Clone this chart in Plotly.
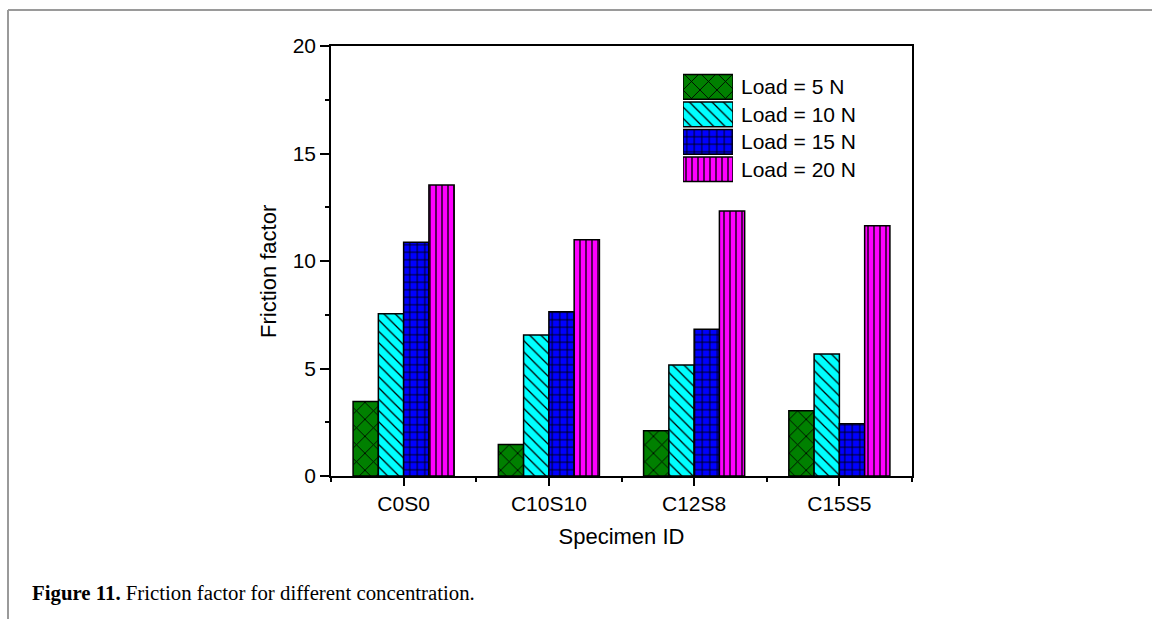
import plotly.graph_objects as go

categories = ["C0S0", "C10S10", "C12S8", "C15S5"]
series_names = ["Load = 5 N", "Load = 10 N", "Load = 15 N", "Load = 20 N"]
load_5 = [3.46, 1.47, 2.11, 3.04]
load_10 = [7.55, 6.56, 5.16, 5.67]
load_15 = [10.87, 7.64, 6.82, 2.43]
load_20 = [13.53, 10.99, 12.33, 11.64]
series_values = [load_5, load_10, load_15, load_20]
colors = ["#008000", "#00ffff", "#0000ff", "#ff00ff"]
patterns = ["x", "\\", "+", "|"]
pattern_sizes = [12, 8, 7.5, 6]
pattern_solidity = [0.14, 0.16, 0.22, 0.22]

W, H = 1152, 619
L, R, T, B = 331, 240, 46, 143
PW, PH = W - L - R, H - T - B

def px_x(px):
    return (px - L) / PW

def px_y(py):
    return (H - B - py) / PH

fig = go.Figure()
x_pos = list(range(len(categories)))
for name, vals, col, pat, ps, sol in zip(series_names, series_values, colors, patterns, pattern_sizes, pattern_solidity):
    fig.add_trace(go.Bar(
        x=x_pos, y=vals, name=name, showlegend=False,
        marker=dict(color=col, line=dict(color="black", width=1.5),
                    pattern=dict(shape=pat, fgcolor="black", bgcolor=col, size=ps, solidity=sol, fillmode="replace")),
        xaxis="x", yaxis="y",
    ))

# custom legend drawn as horizontal bars on an inset axis
for i, (name, col, pat, ps, sol) in enumerate(zip(series_names, colors, patterns, pattern_sizes, pattern_solidity)):
    fig.add_trace(go.Bar(
        x=[1], y=[i], orientation="h", width=0.9, showlegend=False,
        marker=dict(color=col, line=dict(color="black", width=1.5),
                    pattern=dict(shape=pat, fgcolor="black", bgcolor=col, size=ps, solidity=sol, fillmode="replace")),
        xaxis="x2", yaxis="y2", hoverinfo="skip",
    ))
    fig.add_annotation(x=px_x(739), y=i, xref="paper", yref="y2", text=name, showarrow=False,
                       xanchor="left", yanchor="middle",
                       font=dict(family="Liberation Sans, Arial", size=21, color="black"))

axis_font = dict(family="Liberation Sans, Arial", size=21, color="black")
fig.update_layout(
    width=W, height=H,
    margin=dict(l=L, r=R, t=T, b=B, pad=0),
    paper_bgcolor="white", plot_bgcolor="white",
    barmode="group", bargap=0.304, bargroupgap=0,
    font=axis_font,
    xaxis=dict(range=[-0.5, 3.5], tickmode="array", tickvals=x_pos, ticktext=categories,
               showline=True, linecolor="black", linewidth=1.5, mirror=True,
               ticks="outside", ticklen=8, tickwidth=1.5, tickcolor="black",
               showgrid=False, zeroline=False, tickfont=axis_font,
               minor=dict(tick0=0.5, dtick=1, ticks="outside", ticklen=4, tickwidth=1.5, tickcolor="black"),
               title=dict(text="Specimen ID", font=dict(family="Liberation Sans, Arial", size=22, color="black"), standoff=15)),
    yaxis=dict(range=[0, 20], dtick=5, tick0=0,
               showline=True, linecolor="black", linewidth=1.5, mirror=True,
               ticks="outside", ticklen=9, tickwidth=1.5, tickcolor="black",
               showgrid=False, zeroline=False, tickfont=axis_font,
               minor=dict(dtick=2.5, ticks="outside", ticklen=4, tickwidth=1.5, tickcolor="black")),
    xaxis2=dict(domain=[px_x(683), px_x(733)], range=[0, 1], anchor="y2", visible=False, fixedrange=True),
    yaxis2=dict(domain=[px_y(183), px_y(73)], range=[3.5, -0.5], anchor="x2", visible=False, fixedrange=True),
    showlegend=False,
)

# y axis title
fig.add_annotation(x=px_x(268), y=px_y(272), xref="paper", yref="paper", text="Friction factor",
                   textangle=-90, showarrow=False, xanchor="center", yanchor="middle",
                   font=dict(family="Liberation Sans, Arial", size=22, color="black"))

# caption
fig.add_annotation(x=px_x(30), y=px_y(593), xref="paper", yref="paper",
                   text="<b>Figure 11.</b> Friction factor for different concentration.",
                   showarrow=False, xanchor="left", yanchor="middle",
                   font=dict(family="Liberation Serif, Times New Roman", size=20.8, color="black"))

# page frame lines
fig.add_shape(type="line", xref="paper", yref="paper", x0=px_x(8), x1=px_x(1152), y0=px_y(10), y1=px_y(10),
              line=dict(color="#9a9a9a", width=2))
fig.add_shape(type="line", xref="paper", yref="paper", x0=px_x(8), x1=px_x(8), y0=px_y(10), y1=px_y(619),
              line=dict(color="#9a9a9a", width=2))

fig.write_html("out.html")
